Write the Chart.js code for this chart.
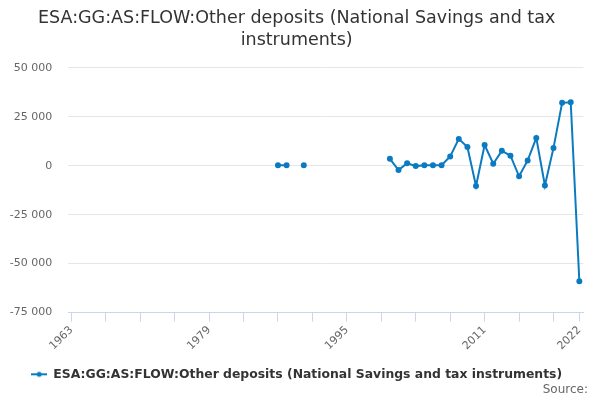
<!DOCTYPE html>
<html>
<head>
<meta charset="utf-8">
<script src="https://cdn.jsdelivr.net/npm/chart.js@4"></script>
<style>
html,body{margin:0;padding:0;background:#fff;}
#wrap{width:600px;height:400px;}
</style>
</head>
<body>
<div id="wrap"><canvas id="c" width="600" height="400"></canvas></div>
<script>
const years = [];
for (let y = 1963; y <= 2022; y++) years.push(y);
const values = [
  null,null,null,null,null,null,null,null,null,null, // 1963-1972
  null,null,null,null,null,null,null,null,null,null, // 1973-1982
  null,null,null,null,                               // 1983-1986
  300, 300, null, 300,                               // 1987-1990
  null,null,null,null,null,null,null,null,null,      // 1991-1999
  3500, -2200, 1300, -200, 300, 300, 300,            // 2000-2006
  4700, 13700, 9600, -10300, 10600, 1000, 7600,      // 2007-2013
  5100, -5400, 2700, 14200, -10100, 9100, 32100,     // 2014-2020
  32400, -59000                                      // 2021-2022
];
const tickYears = [1963,1967,1971,1975,1979,1983,1987,1991,1995,1999,2003,2007,2011,2015,2019,2022];
const labelYears = [1963,1979,1995,2011,2022];
const yTicks = [-75000,-50000,-25000,0,25000,50000];
const seriesName = 'ESA:GG:AS:FLOW:Other deposits (National Savings and tax instruments)';
const titleLines = ['ESA:GG:AS:FLOW:Other deposits (National Savings and tax', 'instruments)'];
const sourceText = 'Source:';
const color = '#0b7bc1';

function fmt(v){
  const s = Math.abs(v).toString().replace(/\B(?=(\d{3})+(?!\d))/g, ' ');
  return (v < 0 ? '-' : '') + s;
}

// legend marker: line with dot
const mk = document.createElement('canvas');
mk.width = 16; mk.height = 10;
const mctx = mk.getContext('2d');
mctx.strokeStyle = color; mctx.lineWidth = 2;
mctx.beginPath(); mctx.moveTo(0,5); mctx.lineTo(16,5); mctx.stroke();
mctx.fillStyle = color; mctx.beginPath(); mctx.arc(8,5,2.5,0,Math.PI*2); mctx.fill();

const sourcePlugin = {
  id: 'sourceText',
  afterDraw(chart) {
    const ctx = chart.ctx;
    ctx.save();
    ctx.font = '12px "DejaVu Sans"';
    ctx.fillStyle = '#666666';
    ctx.textAlign = 'right';
    ctx.textBaseline = 'middle';
    ctx.fillText(sourceText, 588, 390);
    ctx.restore();
  }
};

new Chart(document.getElementById('c'), {
  type: 'line',
  data: {
    datasets: [{
      label: seriesName,
      data: years.map((y,i) => ({x: y, y: values[i]})),
      borderColor: color,
      backgroundColor: color,
      borderWidth: 2,
      pointRadius: 2,
      pointHoverRadius: 3,
      pointStyle: 'circle',
      spanGaps: false,
      tension: 0
    }]
  },
  plugins: [sourcePlugin],
  options: {
    responsive: false,
    animation: false,
    layout: { padding: { left: 10, right: 16.7, top: 0, bottom: 9.5 } },
    plugins: {
      title: {
        display: true,
        text: titleLines,
        color: '#333333',
        font: { family: 'DejaVu Sans', size: 17.5, weight: 'normal', lineHeight: 1.24 },
        padding: { top: 8, bottom: 16.4 }
      },
      legend: {
        position: 'bottom',
        labels: {
          usePointStyle: true,
          pointStyle: mk,
          pointStyleWidth: 16,
          color: '#333333',
          font: { family: 'DejaVu Sans', size: 12.4, weight: 'bold' },
          padding: 8
        }
      },
      tooltip: { enabled: false }
    },
    scales: {
      x: {
        type: 'linear',
        min: 1962.65,
        max: 2022.46,
        afterBuildTicks: (scale) => { scale.ticks = tickYears.map(v => ({value: v})); },
        afterFit: (scale) => { scale.paddingLeft = 0; scale.paddingRight = 0; scale.height = 47.5; },
        grid: { drawOnChartArea: false, drawTicks: true, tickLength: 9, color: '#ccd6eb' },
        border: { color: '#ccd6eb', width: 1 },
        ticks: {
          autoSkip: false,
          maxRotation: 45,
          minRotation: 45,
          color: '#666666',
          font: { family: 'DejaVu Sans', size: 11 },
          padding: 2,
          callback: (v) => labelYears.includes(v) ? String(v) : ''
        }
      },
      y: {
        min: -75000,
        max: 50000,
        afterBuildTicks: (scale) => { scale.ticks = yTicks.map(v => ({value: v})); },
        afterFit: (scale) => { scale.width = 58.3; },
        grid: { color: '#e6e6e6', drawTicks: false },
        border: { display: false },
        ticks: {
          color: '#666666',
          font: { family: 'DejaVu Sans', size: 11 },
          padding: 16,
          callback: (v) => fmt(v)
        }
      }
    }
  }
});
</script>
</body>
</html>
